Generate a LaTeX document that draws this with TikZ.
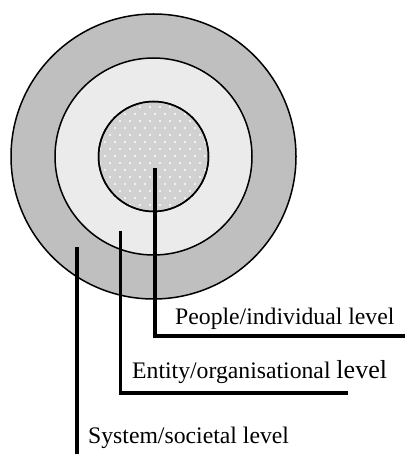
\documentclass[tikz,border=0pt]{standalone}
\usepackage{fontspec}
\setmainfont{Liberation Serif}
\usetikzlibrary{positioning}

\begin{document}
\begin{tikzpicture}[
    x=1pt, y=-1pt,
    every node/.style={font=\fontsize{23.7}{28}\selectfont},
    ring/.style={draw, circle, line width=1.5pt, inner sep=0pt},
    leader/.style={line width=3.2pt, line join=miter},
    levelname/.style={anchor=base west, inner sep=0pt}
]
\useasboundingbox (0,0) rectangle (406,454);
% nested levels
\node[ring, fill=black!25, minimum size=285pt] (system) at (153.5,156.5) {};
\node[ring, fill=black!8, minimum size=197pt] (entity) at (153.5,156.5) {};
\node[ring, fill=black!18, minimum size=110pt] (people) at (153.5,156.5) {};
\begin{scope}
  \clip (people.center) circle (54);
  \foreach \row in {0,...,16} {
    \foreach \col in {0,...,12} {
      \fill[white] ({95+\col*10+mod(\row,2)*5},{100+\row*7}) circle (1.2);
    }
  }
\end{scope}
\node[ring, minimum size=110pt] at (people.center) {};
% labels
\node[levelname] (people-label) at (175,324) {People/individual level};
\node[levelname] (entity-label) at (132,378) {Entity/organisational {\fontsize{26}{30}\selectfont level}};
\node[levelname] (system-label) at (88,443) {System/societal level};
% leaders
\coordinate (people-tip) at (155,168);
\coordinate (people-end) at (405,336);
\coordinate (entity-tip) at (120.5,231);
\coordinate (entity-end) at (348,393);
\coordinate (system-tip) at (77,247);
\coordinate (system-end) at (77,454);
\draw[leader] (people-tip) |- (people-end);
\draw[leader] (entity-tip) |- (entity-end);
\draw[leader] (system-tip) -- (system-end);
\end{tikzpicture}
\end{document}
